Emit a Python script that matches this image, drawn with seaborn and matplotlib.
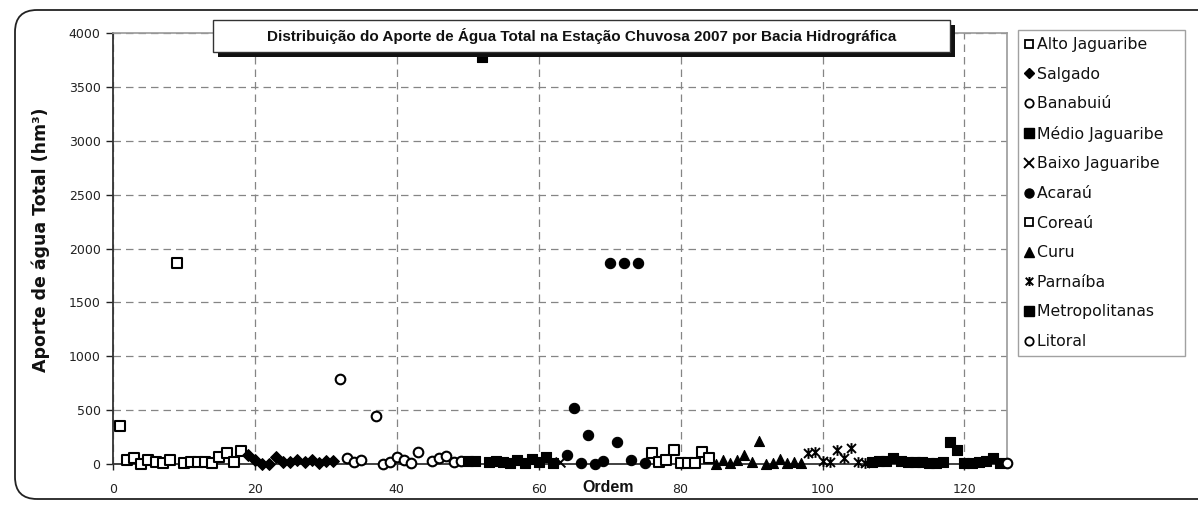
import numpy as np
import pandas as pd
import matplotlib
matplotlib.use("Agg")
import matplotlib.pyplot as plt
import seaborn as sns
from matplotlib.path import Path
from matplotlib.lines import Line2D
from matplotlib.patches import FancyBboxPatch, Rectangle
from matplotlib.transforms import IdentityTransform

# ---------------- data ----------------
alto_x = [1, 2, 3, 4, 5, 6, 7, 8, 9, 10, 11, 12, 13, 14, 15, 16, 17, 18]
alto_y = [350, 37, 52, 3, 40, 22, 9, 40, 1870, 9, 15, 22, 15, 9, 65, 100, 15, 117]

salgado_x = [19, 20, 21, 22, 23, 24, 25, 26, 27, 28, 29, 30, 31]
salgado_y = [87, 40, 2, 2, 65, 18, 18, 40, 20, 40, 5, 30, 30]

banabuiu_x = [32, 33, 34, 35, 37, 38, 39, 40, 41, 42, 43, 45, 46, 47, 48, 49]
banabuiu_y = [785, 52, 15, 34, 445, 2, 15, 65, 40, 9, 111, 31, 56, 77, 15, 25]

medio_x = [50, 51, 52, 53, 54, 55, 56, 57, 58, 59, 60, 61, 62]
medio_y = [25, 30, 3780, 20, 25, 15, 10, 40, 10, 50, 20, 65, 10]

baixo_x = [63]
baixo_y = [15]

acarau_x = [64, 65, 66, 67, 68, 69, 70, 71, 72, 73, 74, 75]
acarau_y = [85, 520, 10, 270, 2, 25, 1870, 200, 1870, 35, 1870, 10]

coreau_x = [76, 77, 78, 79, 80, 81, 82, 83, 84]
coreau_y = [100, 22, 37, 130, 6, 6, 6, 108, 58]

curu_x = [85, 86, 87, 88, 89, 90, 91, 92, 93, 94, 95, 96, 97]
curu_y = [2, 37, 6, 37, 83, 22, 216, 2, 6, 43, 6, 22, 6]

parnaiba_x = [98, 99, 100, 101, 102, 103, 104, 105, 106]
parnaiba_y = [100, 115, 30, 20, 130, 60, 150, 15, 10]

metro_x = [107, 108, 109, 110, 111, 112, 113, 114, 115, 116, 117, 118, 119,
           120, 121, 122, 123, 124, 125]
metro_y = [20, 30, 25, 60, 30, 20, 15, 15, 10, 10, 15, 200, 130,
           10, 10, 20, 25, 60, 10]

litoral_x = [126]
litoral_y = [10]

labels = ["Alto Jaguaribe", "Salgado", "Banabuiú", "Médio Jaguaribe",
          "Baixo Jaguaribe", "Acaraú", "Coreaú", "Curu", "Parnaíba",
          "Metropolitanas", "Litoral"]
x_ticks = [0, 20, 40, 60, 80, 100, 120]
y_ticks = [0, 500, 1000, 1500, 2000, 2500, 3000, 3500, 4000]
title = "Distribuição do Aporte de Água Total na Estação Chuvosa 2007 por Bacia Hidrográfica"

# ---------------- style ----------------
sns.set_style("white")
plt.rcParams["font.family"] = ["DejaVu Sans"]

asterisk = Path([(-1, -1), (1, 1), (-1, 1), (1, -1), (0, -1.2), (0, 1.2)],
                [Path.MOVETO, Path.LINETO, Path.MOVETO, Path.LINETO,
                 Path.MOVETO, Path.LINETO])

# (x, y, marker, filled, size)
series = [
    (alto_x, alto_y, "s", False, 42),
    (salgado_x, salgado_y, "D", True, 36),
    (banabuiu_x, banabuiu_y, "o", False, 48),
    (medio_x, medio_y, "s", True, 50),
    (baixo_x, baixo_y, "x", None, 50),
    (acarau_x, acarau_y, "o", True, 55),
    (coreau_x, coreau_y, "s", False, 42),
    (curu_x, curu_y, "^", True, 52),
    (parnaiba_x, parnaiba_y, asterisk, None, 60),
    (metro_x, metro_y, "s", True, 50),
    (litoral_x, litoral_y, "o", False, 48),
]

fig = plt.figure(figsize=(11.98, 5.07), dpi=100)
ax = fig.add_axes([113 / 1198, 1 - 464 / 507, (1007 - 113) / 1198, (464 - 33) / 507])

for xs, ys, mk, filled, s in series:
    df = pd.DataFrame({"x": xs, "y": ys})
    if filled is None:
        sns.scatterplot(data=df, x="x", y="y", marker=mk, s=s, color="black",
                        edgecolor="black", facecolor="black", linewidth=1.4,
                        clip_on=False, legend=False, ax=ax, zorder=3)
    elif filled:
        sns.scatterplot(data=df, x="x", y="y", marker=mk, s=s,
                        facecolor="black", edgecolor="black", linewidth=0.8,
                        clip_on=False, legend=False, ax=ax, zorder=3)
    else:
        sns.scatterplot(data=df, x="x", y="y", marker=mk, s=s,
                        facecolor="white", edgecolor="black", linewidth=1.5,
                        clip_on=False, legend=False, ax=ax, zorder=3)

ax.set_xlim(0, 126)
ax.set_ylim(0, 4000)
ax.set_xticks(x_ticks)
ax.set_yticks(y_ticks)
ax.set_axisbelow(True)
ax.grid(True, linestyle=(0, (6, 4)), color="#858585", linewidth=0.9)
ax.tick_params(axis="both", direction="out", length=5, width=1.0,
               labelsize=9, colors="#222222", pad=4, left=True, bottom=True)
ax.tick_params(axis="x", length=4, pad=10)
for side in ["left", "bottom"]:
    ax.spines[side].set_color("#333333")
    ax.spines[side].set_linewidth(1.3)
for side in ["top", "right"]:
    ax.spines[side].set_color("#9a9a9a")
    ax.spines[side].set_linewidth(1.2)
ax.set_xlabel("")
ax.set_ylabel("")

fig.text(608 / 1198, 1 - 487 / 507, "Ordem", family="Liberation Sans",
         fontweight="bold", fontsize=11.5, ha="center", va="center", color="#111111")
fig.text(41 / 1198, 1 - 240 / 507, "Aporte de água Total (hm³)", family="DejaVu Sans",
         fontweight="bold", fontsize=12.5, rotation=90, ha="center", va="center",
         color="#111111")

# outer rounded border
fig.patches.append(FancyBboxPatch((15, 8), 1220, 489, boxstyle="round,pad=0,rounding_size=22",
                                  transform=IdentityTransform(), fc="none", ec="#222222",
                                  lw=1.3, zorder=0))

# title box with drop shadow
tx0, tx1, ty0, ty1 = 213, 950, 507 - 52, 507 - 20
fig.patches.append(Rectangle((tx0 + 5, ty0 - 5), tx1 - tx0, ty1 - ty0,
                             transform=IdentityTransform(), fc="#111111", ec="none", zorder=5))
fig.patches.append(Rectangle((tx0, ty0), tx1 - tx0, ty1 - ty0,
                             transform=IdentityTransform(), fc="white", ec="#333333",
                             lw=1.0, zorder=6))
fig.text((tx0 + tx1) / 2 / 1198, (ty0 + ty1) / 2 / 507, title, family="Liberation Sans",
         fontweight="bold", fontsize=11, ha="center", va="center", color="#111111", zorder=7)

# legend
handles = []
for (xs, ys, mk, filled, s), lab in zip(series, labels):
    if filled is None:
        h = Line2D([], [], linestyle="none", marker=mk, markersize=6.5, color="black",
                   markeredgewidth=1.4)
    elif filled:
        h = Line2D([], [], linestyle="none", marker=mk, markersize=6.5 if mk != "D" else 5.5,
                   markerfacecolor="black", markeredgecolor="black")
    else:
        h = Line2D([], [], linestyle="none", marker=mk, markersize=6,
                   markerfacecolor="white", markeredgecolor="black", markeredgewidth=1.3)
    handles.append(h)

leg_labels = [lab + "   " for lab in labels]
leg = fig.legend(handles, leg_labels, loc="upper left",
                 bbox_to_anchor=(1018 / 1198, 1 - 30 / 507),
                 frameon=True, fancybox=False, fontsize=11.3, handlelength=0.5,
                 handletextpad=0.25, labelspacing=0.93, borderpad=0.45,
                 borderaxespad=0)
leg.get_frame().set_edgecolor("#8a8a8a")
leg.get_frame().set_linewidth(1.0)
for t in leg.get_texts():
    t.set_color("#111111")

fig.savefig("out.png", dpi=100)
